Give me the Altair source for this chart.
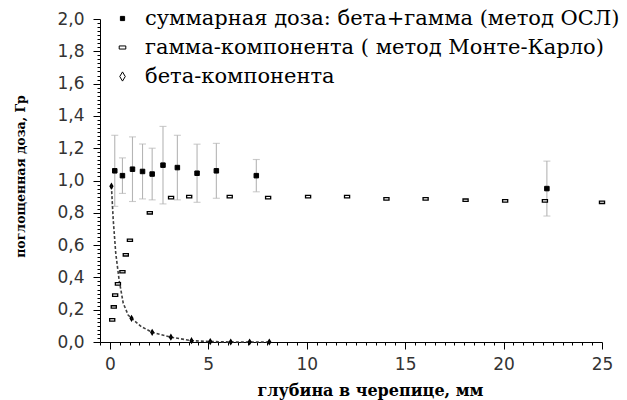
import altair as alt
import pandas as pd

# --- data ---
osl_x = [0.25, 0.64, 1.15, 1.66, 2.15, 2.7, 3.43, 4.43, 5.41, 7.44, 22.2]
osl_y = [1.06, 1.03, 1.07, 1.056, 1.04, 1.095, 1.08, 1.045, 1.06, 1.03, 0.95]
osl_err = [0.22, 0.11, 0.2, 0.17, 0.16, 0.24, 0.2, 0.18, 0.17, 0.1, 0.17]

gamma_x = [0.12, 0.2, 0.27, 0.41, 0.64, 0.81, 1.02, 2.03, 3.11, 4.03, 6.09, 8.04,
           10.07, 12.05, 14.05, 16.04, 18.07, 20.08, 22.1, 25.0]
gamma_y = [0.137, 0.217, 0.29, 0.36, 0.435, 0.54, 0.63, 0.80, 0.894, 0.90, 0.90, 0.894,
           0.90, 0.90, 0.886, 0.886, 0.878, 0.874, 0.874, 0.865]

beta_x = [0.08, 1.1, 2.15, 3.1, 4.15, 5.1, 6.14, 7.1, 8.1]
beta_y = [0.965, 0.147, 0.06, 0.03, 0.008, 0.003, 0.0, 0.0, 0.0]

curve_x = [0.08, 0.17, 0.3, 0.47, 0.68, 0.93, 1.1, 1.6, 2.15, 3.1, 4.15, 5.1, 6.14, 7.1, 8.1]
curve_y = [0.965, 0.76, 0.55, 0.385, 0.24, 0.167, 0.147, 0.095, 0.06, 0.03, 0.008, 0.003, 0.0, 0.0, 0.0]

labels = [
    "суммарная доза: бета+гамма (метод ОСЛ)",
    "\u00a0\u00a0гамма-компонента ( метод Монте-Карло)",
    "бета-компонента",
]

x_title = "глубина в черепице, мм"
y_title = "поглощенная доза, Гр"

# --- tables ---
osl = pd.DataFrame({"x": osl_x, "y": osl_y, "err": osl_err})
osl["lo"] = osl["y"] - osl["err"]
osl["hi"] = osl["y"] + osl["err"]
osl["s"] = labels[0]
gam = pd.DataFrame({"x": gamma_x, "y": gamma_y, "s": labels[1]})
bet = pd.DataFrame({"x": beta_x, "y": beta_y, "s": labels[2]})
cur = pd.DataFrame({"x": curve_x, "y": curve_y})

SQ = "M-0.42,-0.42H0.42V0.42H-0.42Z"
RECT = "M-0.66,-0.31H0.66V0.31H-0.66Z"
DIA = "M0,-0.92L0.55,0L0,0.92L-0.55,0Z"

xvals = [round(-0.5 + 0.5 * i, 2) for i in range(52)]
yvals = [round(0.025 * i, 3) for i in range(81)]

xscale = alt.Scale(domain=[-0.5, 25], nice=False, zero=False)
yscale = alt.Scale(domain=[0, 2.0], nice=False)

xmaj = "abs(datum.value/5 - round(datum.value/5)) < 0.001"
ymaj = "abs(datum.value*5 - round(datum.value*5)) < 0.001"

xaxis = alt.Axis(
    values=xvals, tickCount=1000, title=x_title, grid=False,
    labelExpr=f"{xmaj} ? format(datum.value, 'd') : ''",
    labelOverlap=False, labelFlush=False,
    tickSize={"condition": {"test": xmaj, "value": 7}, "value": 3},
    labelPadding=7, titleX=270, titleY=40, titleAnchor="middle", titleFontSize=16,
)
yaxis = alt.Axis(
    values=yvals, tickCount=1000, title=y_title, grid=False,
    labelExpr=f"{ymaj} ? replace(format(datum.value, '.1f'), '.', ',') : ''",
    labelOverlap=False, labelFlush=False,
    tickSize={"condition": {"test": ymaj, "value": 7}, "value": 3},
    labelPadding=9, titleX=-73, titleY=157, titleAnchor="middle", titleFontSize=12.5,
)

X = alt.X("x:Q", scale=xscale, axis=xaxis)
Y = alt.Y("y:Q", scale=yscale, axis=yaxis)

shape_scale = alt.Scale(domain=labels, range=[SQ, RECT, DIA])
fill_scale = alt.Scale(domain=labels, range=["black", "white", "white"])
stroke_scale = alt.Scale(domain=labels, range=["black", "black", "black"])
leg = alt.Legend(
    title=None, orient="none", legendX=12, legendY=-11, padding=0,
    symbolStrokeColor="black", symbolStrokeWidth=1,
    symbolOpacity=1, labelFont="DejaVu Serif", labelFontSize=21,
    labelColor="black", labelLimit=700, labelOffset=12, rowPadding=7,
)

bars = alt.Chart(osl).mark_rule(color="#b5b5b5", strokeWidth=1.1).encode(
    x=alt.X("x:Q", scale=xscale), y=alt.Y("lo:Q", scale=yscale), y2="hi:Q")
cap_hi = alt.Chart(osl).mark_tick(color="#b5b5b5", orient="horizontal", size=7, thickness=1.1).encode(
    x=alt.X("x:Q", scale=xscale), y=alt.Y("hi:Q", scale=yscale))
cap_lo = alt.Chart(osl).mark_tick(color="#b5b5b5", orient="horizontal", size=7, thickness=1.1).encode(
    x=alt.X("x:Q", scale=xscale), y=alt.Y("lo:Q", scale=yscale))

line = alt.Chart(cur).mark_line(color="#404040", strokeDash=[3, 2], strokeWidth=1.6).encode(
    x=alt.X("x:Q", scale=xscale), y=alt.Y("y:Q", scale=yscale))


def pts(df, size, sw, fixed_fill=None):
    enc = dict(
        x=X, y=Y,
        shape=alt.Shape("s:N", scale=shape_scale, legend=leg),
        stroke=alt.Stroke("s:N", scale=stroke_scale, legend=leg),
    )
    if fixed_fill is None:
        enc["fill"] = alt.Fill("s:N", scale=fill_scale, legend=leg)
    else:
        enc["fill"] = alt.value(fixed_fill)
    return alt.Chart(df).mark_point(opacity=1, size=size, strokeWidth=sw).encode(**enc)


pts_gam = pts(gam, 60, 1.3)
pts_bet = pts(bet, 22, 1.5, "#303030")
pts_osl = pts(osl, 115, 1)

chart = alt.layer(bars, cap_hi, cap_lo, line, pts_gam, pts_bet, pts_osl).properties(
    width=502, height=323,
    autosize=alt.AutoSizeParams(type="none"),
    padding={"left": 100, "top": 19, "right": 25, "bottom": 58},
).configure_view(stroke=None).configure_axis(
    domainColor="black", tickColor="black", domainWidth=1, tickWidth=1,
    labelFont="DejaVu Sans", labelFontSize=17, labelColor="#333333",
    titleFont="DejaVu Serif", titleFontWeight="bold", titleColor="black",
)

chart.save("out.html", embed_options={"renderer": "svg", "actions": False})
